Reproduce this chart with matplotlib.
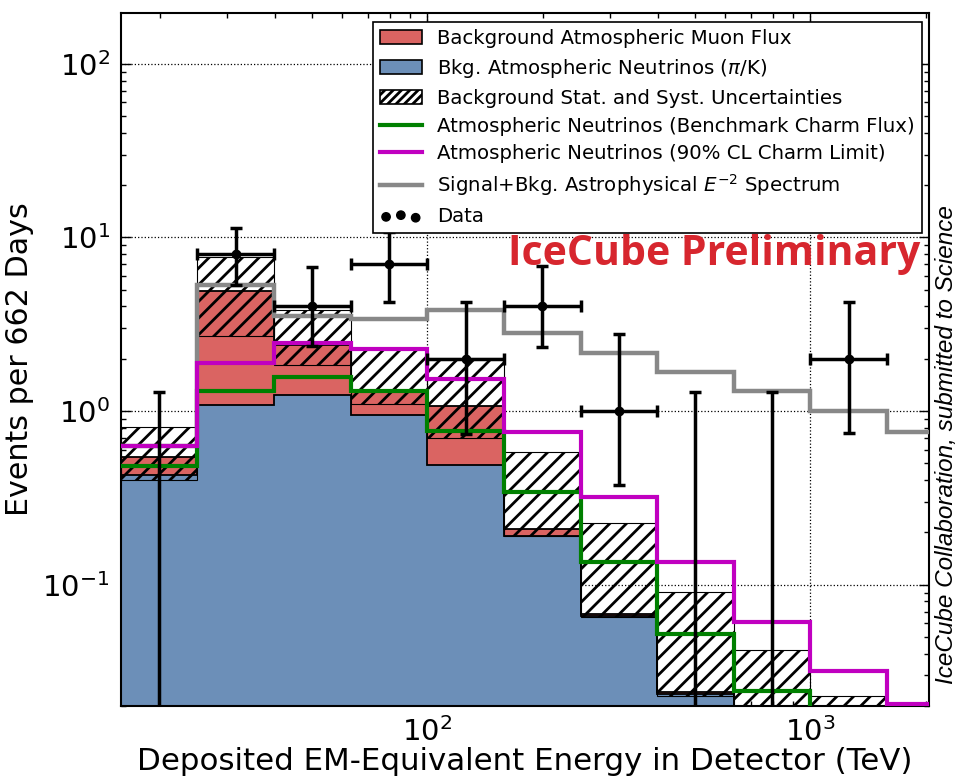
import numpy as np
import matplotlib
matplotlib.use("Agg")
import matplotlib.pyplot as plt
from matplotlib.patches import Patch
from matplotlib.lines import Line2D

# ---------------- data ----------------
edges = [15.85, 25.1, 39.8, 63.1, 100.0, 158.5, 251.2, 398.1, 631.0, 1000.0, 1585.0, 2512.0]

nu_bkg = [0.43, 1.09, 1.24, 0.95, 0.49, 0.19, 0.066, 0.0233, 0.010, 0.004, 0.002]
total_bkg = [0.54, 4.9, 2.4, 1.29, 1.07, 0.21, 0.068, 0.024, 0.010, 0.004, 0.002]
unc_lo = [0.40, 2.7, 1.85, 1.10, 0.70, 0.19, 0.065, 0.0228, 0.008, 0.003, 0.001]
unc_hi = [0.81, 7.7, 3.8, 2.27, 2.01, 0.58, 0.227, 0.091, 0.042, 0.0228, 0.015]

charm_bench = [0.485, 1.31, 1.56, 1.31, 0.77, 0.34, 0.135, 0.052, 0.0244, 0.012, 0.006]
charm_limit = [0.63, 1.88, 2.48, 2.27, 1.53, 0.76, 0.32, 0.135, 0.061, 0.0319, 0.0205]
signal_e2 = [0.63, 5.32, 3.53, 3.38, 3.8, 2.8, 2.17, 1.67, 1.30, 1.0, 0.76]

data_counts = [0, 8, 4, 7, 2, 4, 1, 0, 0, 2]
data_err_lo = [0, 2.7, 1.63, 2.73, 1.26, 1.65, 0.624, 0, 0, 1.255]
data_err_hi = [1.29, 3.3, 2.79, 3.7, 2.27, 2.8, 1.77, 1.29, 1.29, 2.27]

# ---------------- derived ----------------
edges_a = np.array(edges)
lefts = edges_a[:-1]
widths = np.diff(edges_a)
centers = np.sqrt(edges_a[:-1] * edges_a[1:])
nu_a = np.array(nu_bkg)
tot_a = np.array(total_bkg)
mu_a = tot_a - nu_a
lo_a = np.array(unc_lo)
hi_a = np.array(unc_hi)

RED = "#da6462"
BLUE = "#6c8fb8"

plt.rcParams["hatch.linewidth"] = 2.0

fig = plt.figure(figsize=(9.59, 7.82), dpi=100)
ax = fig.add_axes([121 / 959, 1 - 706 / 782, (929 - 121) / 959, (706 - 13) / 782])
ax.set_xscale("log")
ax.set_yscale("log")

ax.bar(lefts, nu_a, width=widths, align="edge", color=BLUE, linewidth=0, zorder=2)
ax.bar(lefts, mu_a, bottom=nu_a, width=widths, align="edge", color=RED, linewidth=0, zorder=2)
ax.stairs(nu_a, edges_a, baseline=None, color="k", linewidth=1.3, zorder=2.5)
ax.stairs(tot_a, edges_a, baseline=None, color="k", linewidth=1.3, zorder=2.5)
ax.bar(lefts, hi_a - lo_a, bottom=lo_a, width=widths, align="edge", fill=False, hatch="//",
       edgecolor="k", linewidth=0.8, zorder=3)

ax.stairs(signal_e2, edges, color="#888888", linewidth=3.2, baseline=None, zorder=4)
ax.stairs(charm_bench, edges, color="#008000", linewidth=3, baseline=None, zorder=5)
ax.stairs(charm_limit, edges, color="#c000c0", linewidth=3, baseline=None, zorder=6)

nd = len(data_counts)
xerr = np.vstack([centers[:nd] - lefts[:nd], edges_a[1:nd + 1] - centers[:nd]])
yerr = np.vstack([data_err_lo, data_err_hi])
ax.errorbar(centers[:nd], data_counts, xerr=xerr, yerr=yerr, fmt="o", color="k",
            markersize=6, elinewidth=2.5, capsize=4, capthick=2.5, zorder=7)

ax.set_xlim(10 ** 1.2, 10 ** 3.31)
ax.set_ylim(0.02, 196)

ax.grid(True, which="major", linestyle=":", color="k", linewidth=0.9)
ax.tick_params(which="both", direction="in", top=True, right=True)
ax.tick_params(which="major", length=7, width=1, labelsize=21, pad=8)
ax.tick_params(which="minor", length=3.5, width=1)
for s in ax.spines.values():
    s.set_linewidth(1.5)

ax.set_xlabel("Deposited EM-Equivalent Energy in Detector (TeV)", fontsize=22.2, labelpad=0)
ax.set_ylabel("Events per 662 Days", fontsize=21.7, labelpad=6)

handles = [
    Patch(facecolor=RED, edgecolor="k", linewidth=1.2),
    Patch(facecolor=BLUE, edgecolor="k", linewidth=1.2),
    Patch(facecolor="white", edgecolor="k", hatch="////", linewidth=1.2),
    Line2D([], [], color="#008000", linewidth=3),
    Line2D([], [], color="#c000c0", linewidth=3),
    Line2D([], [], color="#888888", linewidth=3.2),
    ax.scatter([], [], color="k", s=36),
]
labels = [
    "Background Atmospheric Muon Flux",
    r"Bkg. Atmospheric Neutrinos ($\pi$/K)",
    "Background Stat. and Syst. Uncertainties",
    "Atmospheric Neutrinos (Benchmark Charm Flux)",
    "Atmospheric Neutrinos (90% CL Charm Limit)",
    r"Signal+Bkg. Astrophysical $E^{-2}$ Spectrum",
    "Data",
]
leg = ax.legend(handles, labels, loc="upper right", bbox_to_anchor=(922 / 959, 1 - 22 / 782),
                bbox_transform=fig.transFigure, borderaxespad=0, fontsize=14.2, fancybox=False,
                framealpha=1, edgecolor="k", scatterpoints=3, handlelength=2.1, labelspacing=0.45,
                borderpad=0.35, handletextpad=0.8)
leg.get_frame().set_linewidth(1.2)
leg.set_zorder(10)

fig.text(508 / 959, 1 - 265 / 782, "IceCube Preliminary", family="Open Sans", weight="bold",
         color="#d7262e", fontsize=29.5, ha="left", va="baseline")
fig.text(946 / 959, 1 - 445 / 782, "IceCube Collaboration, submitted to Science",
         family="Liberation Sans", style="italic", fontsize=17.5, rotation=90, ha="center", va="center")

fig.savefig("out.png", dpi=100)
